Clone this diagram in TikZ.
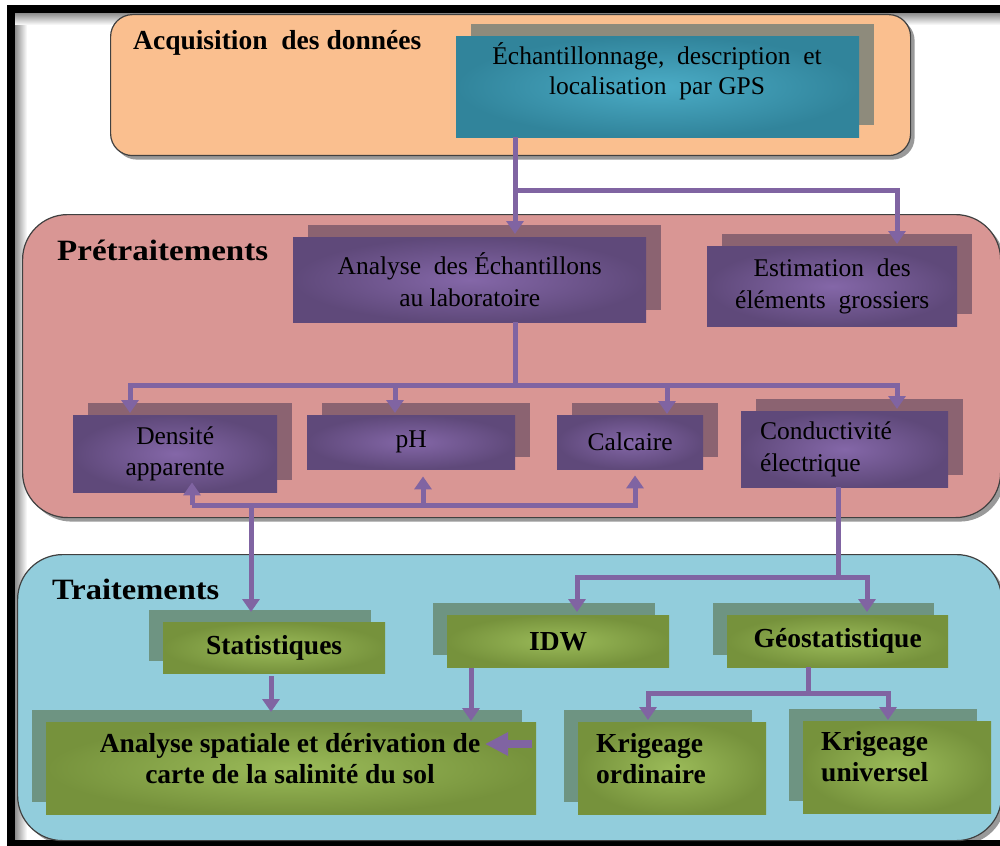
\documentclass[tikz,border=0pt]{standalone}
\usepackage{fontspec}
\setmainfont{Liberation Serif}
\usetikzlibrary{arrows.meta,shadows,calc}
\definecolor{orangeP}{HTML}{FABF8F}
\definecolor{pinkP}{HTML}{D99694}
\definecolor{blueP}{HTML}{92CDDC}
\definecolor{tealIn}{HTML}{4BACC6}
\definecolor{tealOut}{HTML}{31849B}
\definecolor{tealSh}{HTML}{8E8B7C}
\definecolor{purIn}{HTML}{8467A8}
\definecolor{purOut}{HTML}{5F497A}
\definecolor{purSh}{HTML}{8B6371}
\definecolor{grnIn}{HTML}{9BBB59}
\definecolor{grnOut}{HTML}{76923C}
\definecolor{grnSh}{HTML}{6E9482}
\definecolor{lineC}{HTML}{8064A2}
\begin{document}
\begin{tikzpicture}[x=1pt,y=-1pt,
  panel/.style={draw=black!75, line width=1.2pt, drop shadow={shadow xshift=4pt, shadow yshift=-4pt, opacity=0.4, fill=black}},
  boxbase/.style={anchor=north west, rectangle, inner sep=0pt, align=center, text=black},
  tealbox/.style={boxbase, inner color=tealIn, outer color=tealOut, general shadow={fill=tealSh, shadow xshift=15pt, shadow yshift=12.5pt}},
  purbox/.style={boxbase, inner color=purIn, outer color=purOut, general shadow={fill=purSh, shadow xshift=15pt, shadow yshift=12pt}, font=\fontsize{25.5}{31.5}\selectfont},
  grnbox/.style={boxbase, inner color=grnIn, outer color=grnOut, general shadow={fill=grnSh, shadow xshift=-14pt, shadow yshift=12.5pt}, font=\fontsize{27.5}{31.5}\selectfont\bfseries},
  regtext/.style={inner sep=0pt, align=center, anchor=base, font=\fontsize{25.5}{30}\selectfont},
  boldtext/.style={inner sep=0pt, anchor=base, font=\fontsize{27.5}{31}\selectfont\bfseries},
  conn/.style={draw=lineC, line width=5pt},
  arr/.style={conn, -{Triangle[width=17pt,length=13pt]}},
  bigarr/.style={draw=lineC, line width=8pt, -{Triangle[width=22pt,length=23pt]}},
  title/.style={anchor=base west, inner sep=0pt}
]
\useasboundingbox (0,0) rectangle (1000,845);
% outer frame
\shade[left color=black!45, right color=white] (15,13) rectangle (27,841);
\shade[top color=black!45, bottom color=white] (15,13) rectangle (1000,25);
\draw[line width=8pt] (11,9) rectangle (1012,844);

% panels
\node[panel, fill=orangeP, rounded corners=22pt, anchor=north west, minimum width=800pt, minimum height=141pt, inner sep=0pt] (p1) at (110,14) {};
\node[panel, fill=pinkP, rounded corners=45pt, anchor=north west, minimum width=978pt, minimum height=303pt, inner sep=0pt] (p2) at (22,214) {};
\node[panel, fill=blueP, rounded corners=45pt, anchor=north west, minimum width=984pt, minimum height=286pt, inner sep=0pt] (p3) at (17,554) {};

% titles
\node[title, font=\fontsize{27.5}{30}\selectfont\bfseries] (t1) at (133,50) {Acquisition\ \ des données};
\node[title, font=\fontsize{29.5}{32}\selectfont\bfseries] (t2) at (57,260) {\scalebox{1.12}[1]{Prétraitements}};
\node[title, font=\fontsize{29.5}{32}\selectfont\bfseries] (t3) at (52,599) {\scalebox{1.1}[1]{Traitements}};

% acquisition box
\node[tealbox, minimum width=403pt, minimum height=101pt] (acq) at (456,36) {};
\node[regtext] (acq-t) at (657,95) {Échantillonnage,\ \ description\ \ et\\localisation\ \ par GPS};

% pretraitement boxes
\node[purbox, minimum width=353pt, minimum height=85pt] (ana) at (293,237) {Analyse\ \ des Échantillons\\au laboratoire};
\node[purbox, minimum width=250pt, minimum height=80pt] (est) at (707,246) {Estimation\ \ des\\éléments\ \ grossiers};
\node[purbox, minimum width=204pt, minimum height=77pt] (den) at (73,415) {Densité\\apparente};
\node[purbox, minimum width=208pt, minimum height=54pt] (ph) at (307,415) {pH};
\node[purbox, minimum width=146pt, minimum height=54pt] (cal) at (557,415) {Calcaire};
\node[purbox, minimum height=76pt, text width=169pt, inner xsep=19pt, align=left] (con) at (741,411) {Conductivité\\électrique};

% traitement boxes
\node[grnbox, minimum width=222pt, minimum height=51pt] (sta) at (163,622) {Statistiques};
\node[grnbox, minimum width=222pt, minimum height=52pt] (idw) at (447,615) {IDW};
\node[grnbox, minimum width=221pt, minimum height=52pt] (geo) at (727,615) {Géostatistique};
\node[grnbox, minimum width=490pt, minimum height=92pt] (asp) at (46,722) {};
\node[grnbox, minimum width=188pt, minimum height=92pt] (kro) at (578,722) {};
\node[grnbox, minimum width=188pt, minimum height=92pt] (kru) at (803,721) {};
\node[boldtext, align=center] (asp-t) at (290,783) {Analyse spatiale et dérivation de\\carte de la salinité du sol};
\node[boldtext, anchor=base west, align=left] (kro-t) at (596,783) {Krigeage\\ordinaire};
\node[boldtext, anchor=base west, align=left] (kru-t) at (821,781) {Krigeage\\universel};

% connectors: acquisition -> pretraitement
\coordinate (j1) at (515,190);
\coordinate (j1r) at (897,190);
\draw[arr, shorten >=3pt] (acq.south -| j1) -- (ana.north -| j1);
\draw[arr, shorten >=2pt, line join=miter] (j1) -- (j1r) -- (est.north -| j1r);

% analyse -> measures
\coordinate (j2) at (515,385);
\coordinate (j2l) at (130,385);
\coordinate (j2a) at (395,385);
\coordinate (j2b) at (667,385);
\coordinate (j2r) at (897,385);
\draw[conn] (ana.south -| j2) -- (j2);
\draw[arr, shorten >=2pt] (j2r) -- (j2l) -- (den.north -| j2l);
\draw[arr, shorten >=2pt] (j2) -- (j2r) -- (con.north -| j2r);
\draw[arr, shorten >=2pt] (j2a) -- (ph.north -| j2a);
\draw[arr, shorten >=1pt] (j2b) -- (cal.north -| j2b);

% measures -> statistiques
\coordinate (b0) at (192,505);
\coordinate (b1) at (423,505);
\coordinate (b2) at (638,505);
\coordinate (b2x) at (635,505);
\coordinate (b3) at (251,505);
\draw[conn] (b0) -- (b2);
\draw[arr, shorten >=-10pt] (b0) -- (den.south -| b0);
\draw[arr, shorten >=7pt] (b1) -- (ph.south -| b1);
\draw[arr, shorten >=6pt] (b2x) -- (cal.south -| b2x);
\draw[arr, shorten >=10pt] (b3) -- (sta.north -| b3);

% conductivite -> IDW / geostatistique
\coordinate (c0) at (838,577);
\coordinate (cl) at (577,577);
\coordinate (cr) at (867,577);
\draw[conn] (con.south -| c0) -- (c0);
\draw[arr, shorten >=3pt] (c0) -- (cl) -- (idw.north -| cl);
\draw[arr, shorten >=3pt] (c0) -- (cr) -- (geo.north -| cr);

% geostatistique -> krigeage
\coordinate (g0) at (808,693);
\coordinate (gl) at (648,693);
\coordinate (gr) at (888,693);
\draw[conn] (geo.south -| g0) -- (g0);
\draw[arr, shorten >=2pt] (g0) -- (gl) -- (kro.north -| gl);
\draw[arr, shorten >=1pt] (g0) -- (gr) -- (kru.north -| gr);

% statistiques / IDW -> analyse spatiale
\coordinate (s0) at (271,676);
\coordinate (i0) at (471,668);
\draw[arr, shorten >=10pt] (s0) -- (asp.north -| s0);
\draw[arr, shorten >=1pt] (i0) -- (asp.north -| i0);
\coordinate (k0) at (532,744);
\coordinate (k1) at (485,744);
\draw[bigarr] (k0) -- (k1);
\end{tikzpicture}
\end{document}
